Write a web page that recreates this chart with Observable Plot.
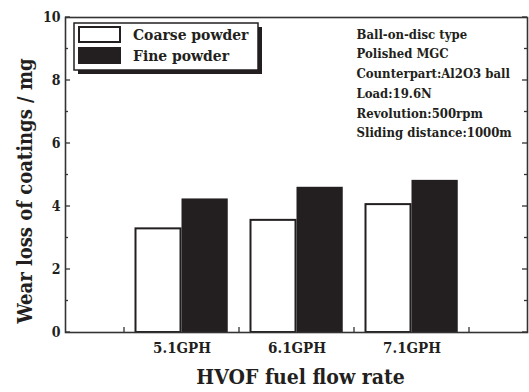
<!DOCTYPE html>
<html>
<head>
<meta charset="utf-8">
<script src="https://cdn.jsdelivr.net/npm/d3@7"></script>
<script src="https://cdn.jsdelivr.net/npm/@observablehq/plot@0.6"></script>
<style>
  html, body { margin: 0; padding: 0; background: #fff; }
  #chart { width: 529px; height: 392px; }
</style>
</head>
<body>
<div id="chart"></div>
<script>
// Wear loss of HVOF coatings for two powder sizes at three fuel flow rates
const rates = ["5.1GPH", "6.1GPH", "7.1GPH"];
const coarse = [3.29, 3.56, 4.06];
const fine = [4.24, 4.61, 4.83];
const seriesNames = ["Coarse powder", "Fine powder"];
const yTicks = [0, 2, 4, 6, 8, 10];
const yMinorTicks = [0, 1, 2, 3, 4, 5, 6, 7, 8, 9, 10];
const conditions = [
  "Ball-on-disc type",
  "Polished MGC",
  "Counterpart:Al2O3 ball",
  "Load:19.6N",
  "Revolution:500rpm",
  "Sliding distance:1000m"
];
const xTitle = "HVOF fuel flow rate";
const yTitle = "Wear loss of coatings / mg";

const coarseData = rates.map((r, i) => ({rate: r, value: coarse[i]}));
const fineData = rates.map((r, i) => ({rate: r, value: fine[i]}));

const ink = "#231f20";
const axisInk = "#333";
const font = "'DejaVu Serif Condensed', 'DejaVu Serif', serif";

// Inward ticks on the left, right and bottom edges of the frame
function frameTicks(index, scales, values, dim) {
  const {x, y} = scales;
  const left = dim.marginLeft;
  const right = dim.width - dim.marginRight;
  const bottom = dim.height - dim.marginBottom;
  const g = d3.create("svg:g").attr("stroke", axisInk).attr("stroke-width", 1.3);
  for (const v of yMinorTicks) {
    const len = yTicks.includes(v) ? 5 : 3;
    g.append("line").attr("x1", left).attr("x2", left + len).attr("y1", y(v)).attr("y2", y(v));
    g.append("line").attr("x1", right).attr("x2", right - len).attr("y1", y(v)).attr("y2", y(v));
  }
  const bw = x.bandwidth ? x.bandwidth() : scales.scales.x.bandwidth;
  const edges = [x(rates[0]), ...rates.map(r => x(r) + bw)];
  for (const e of edges) {
    g.append("line").attr("x1", e).attr("x2", e).attr("y1", bottom).attr("y2", bottom - 5);
  }
  return g.node();
}

// Boxed legend with a drop shadow, in the upper left of the frame
function legendBox(index, scales, values, dim) {
  const x0 = dim.marginLeft + 9, y0 = dim.marginTop + 6, w = 184, h = 47;
  const g = d3.create("svg:g");
  g.append("rect").attr("x", x0 + 4).attr("y", y0 + 4).attr("width", w).attr("height", h).attr("fill", ink);
  g.append("rect").attr("x", x0).attr("y", y0).attr("width", w).attr("height", h)
    .attr("fill", "#fff").attr("stroke", ink).attr("stroke-width", 1.5);
  const fills = ["#fff", ink];
  seriesNames.forEach((name, i) => {
    const sy = y0 + 4 + i * 21;
    g.append("rect").attr("x", x0 + 5).attr("y", sy).attr("width", 41).attr("height", 15)
      .attr("fill", fills[i]).attr("stroke", ink).attr("stroke-width", 2);
    g.append("text").attr("x", x0 + 59).attr("y", sy + 7.5).attr("dy", "0.35em")
      .attr("text-anchor", "start")
      .attr("font-size", 15.5).attr("font-weight", "bold").attr("font-family", font)
      .attr("fill", ink).text(name);
  });
  return g.node();
}

const chart = Plot.plot({
  width: 529,
  height: 392,
  marginLeft: 65,
  marginRight: 2,
  marginTop: 17,
  marginBottom: 60,
  style: {fontFamily: font, background: "#fff", color: ink, overflow: "visible"},
  x: {domain: rates, paddingInner: 0, paddingOuter: 0.5, label: null},
  y: {domain: [0, 10], label: null},
  marks: [
    Plot.barY(coarseData, {x: "rate", y: "value", fill: "#fff", stroke: ink, strokeWidth: 2,
      insetLeft: 11.5, insetRight: 58.5}),
    Plot.barY(fineData, {x: "rate", y: "value", fill: ink, insetLeft: 57.5, insetRight: 11.25}),
    Plot.frame({stroke: axisInk, strokeWidth: 1.6}),
    frameTicks,
    Plot.axisY(yTicks, {tickSize: 0, tickPadding: 5, fontSize: 14, fontWeight: "bold", label: null}),
    Plot.axisX({tickSize: 0, tickPadding: 10, fontSize: 15, fontWeight: "bold", label: null}),
    Plot.text([yTitle], {frameAnchor: "left", rotate: -90, textAnchor: "middle", lineAnchor: "middle",
      dx: -40, dy: 16, fontSize: 20, fontWeight: "bold", fill: ink}),
    Plot.text([xTitle], {frameAnchor: "bottom", textAnchor: "middle", lineAnchor: "middle",
      dx: 4, dy: 45, fontSize: 21, fontWeight: "bold", fill: ink}),
    Plot.text([conditions.join("\n")], {frameAnchor: "top-left", dx: 291, dy: 7, textAnchor: "start",
      lineAnchor: "top", lineHeight: 1.52, fontSize: 13, fontWeight: "bold", fill: ink}),
    legendBox
  ]
});

document.getElementById("chart").appendChild(chart);
</script>
</body>
</html>
